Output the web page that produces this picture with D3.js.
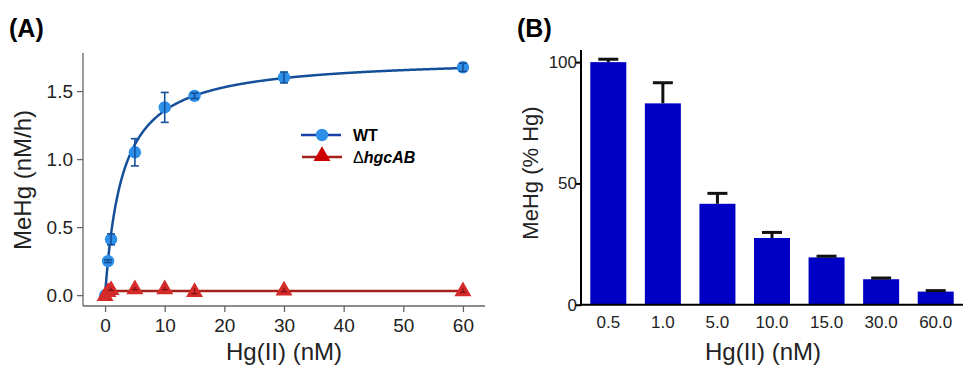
<!DOCTYPE html>
<html><head><meta charset="utf-8">
<script src="https://cdn.jsdelivr.net/npm/d3@7"></script>
<style>body{margin:0;background:#fff}svg{display:block;font-family:"Liberation Sans",Arial,sans-serif}</style>
</head><body><svg id="c" width="963" height="367"></svg>
<script>
// Panel A data
const hgA = [0, 0.5, 1, 5, 10, 15, 30, 60];
const wtRate = [0.0, 0.25, 0.41, 1.05, 1.38, 1.465, 1.60, 1.675];
const wtErr = [0.0, 0.01, 0.04, 0.10, 0.11, 0.02, 0.04, 0.03];
const mutRate = [0.0, 0.03, 0.045, 0.05, 0.05, 0.03, 0.04, 0.035];
const mutErr = [0.0, 0.005, 0.01, 0.01, 0.01, 0.02, 0.015, 0.015];
const mutLevel = 0.03;
// Michaelis-Menten fit parameters for WT curve
const fitVmax = 1.75, fitKm = 2.9;
const yTicksA = [0, 0.5, 1.0, 1.5];
const xTicksA = [0, 10, 20, 30, 40, 50, 60];
// Panel B data
const catsB = ["0.5", "1.0", "5.0", "10.0", "15.0", "30.0", "60.0"];
const pctB = [100, 83, 41.6, 27.5, 19.5, 10.5, 5.4];
const pctErr = [1.2, 8.5, 4.3, 2.3, 0.5, 0.5, 0.4];
const yTicksB = [0, 50, 100];

const svg = d3.select("#c");

// ---------- Panel A ----------
const xA = d3.scaleLinear().domain([-3.7, 63.7]).range([83, 485]);
const yA = d3.scaleLinear().domain([-0.08, 1.78]).range([306, 53]);
const gA = svg.append("g");
const axCol = "#666";
gA.append("line").attr("x1",83).attr("x2",83).attr("y1",53).attr("y2",306).attr("stroke",axCol).attr("stroke-width",1.3);
gA.append("line").attr("x1",83).attr("x2",485).attr("y1",306).attr("y2",306).attr("stroke",axCol).attr("stroke-width",1.3);
const yAxA = gA.append("g").attr("transform","translate(83,0)").call(d3.axisLeft(yA).tickValues(yTicksA).tickFormat(d3.format(".1f")).tickSize(6));
yAxA.select(".domain").remove();
yAxA.selectAll("line").attr("stroke",axCol).attr("stroke-width",1.3);
yAxA.selectAll("text").attr("font-size",19).attr("fill","#222").attr("x",-10);
const xAxA = gA.append("g").attr("transform","translate(0,306)").call(d3.axisBottom(xA).tickValues(xTicksA).tickSize(6));
xAxA.select(".domain").remove();
xAxA.selectAll("line").attr("stroke",axCol).attr("stroke-width",1.3);
xAxA.selectAll("text").attr("font-size",19).attr("fill","#222").attr("y",13);
gA.append("text").attr("x",284).attr("y",360).attr("text-anchor","middle").attr("font-size",24).attr("fill","#222").text("Hg(II) (nM)");
gA.append("text").attr("transform","translate(31,180) rotate(-90)").attr("text-anchor","middle").attr("font-size",24).attr("fill","#222").text("MeHg (nM/h)");
svg.append("text").attr("x",9).attr("y",37).attr("font-size",25).attr("font-weight","bold").text("(A)");

// mutant line
const redLine = "#a8201a", redFill = "#d42a2a", blueLine = "#154f99", blueFill = "#2d8fe8";
gA.append("line").attr("x1",xA(0)).attr("x2",xA(60)).attr("y1",yA(mutLevel)).attr("y2",yA(mutLevel)).attr("stroke",redLine).attr("stroke-width",2.5);
// WT fit curve
const fitX = d3.range(0, 60.01, 0.1);
const curve = d3.line().x(d=>xA(d)).y(d=>yA(fitVmax*d/(fitKm+d)));
gA.append("path").datum(fitX).attr("d",curve).attr("fill","none").attr("stroke",blueLine).attr("stroke-width",2.5);

// mutant triangles
const tri = d3.symbol().type(d3.symbolTriangle).size(125);
gA.append("circle").attr("cx",xA(0)).attr("cy",yA(wtRate[0])).attr("r",6).attr("fill",blueFill);
hgA.forEach((x,i)=>{
  gA.append("path").attr("d",tri).attr("transform",`translate(${xA(x)},${yA(mutRate[i])+1})`).attr("fill",redFill);
  if (mutErr[i]>0) {
    const g = gA.append("g").attr("stroke","#7a1010").attr("stroke-width",1.2);
    g.append("line").attr("x1",xA(x)).attr("x2",xA(x)).attr("y1",yA(mutRate[i]-mutErr[i])).attr("y2",yA(mutRate[i]+mutErr[i]));
    g.append("line").attr("x1",xA(x)-3).attr("x2",xA(x)+3).attr("y1",yA(mutRate[i]-mutErr[i])).attr("y2",yA(mutRate[i]-mutErr[i]));
  }
});
// WT points
hgA.forEach((x,i)=>{
  if (i===0) return;
  gA.append("circle").attr("cx",xA(x)).attr("cy",yA(wtRate[i])).attr("r",6.2).attr("fill",blueFill);
});
hgA.forEach((x,i)=>{
  if (wtErr[i]<=0) return;
  const g = gA.append("g").attr("stroke",blueLine).attr("stroke-width",1.6);
  const y1 = yA(wtRate[i]-wtErr[i]), y2 = yA(wtRate[i]+wtErr[i]);
  g.append("line").attr("x1",xA(x)).attr("x2",xA(x)).attr("y1",y1).attr("y2",y2);
  g.append("line").attr("x1",xA(x)-4).attr("x2",xA(x)+4).attr("y1",y1).attr("y2",y1);
  g.append("line").attr("x1",xA(x)-4).attr("x2",xA(x)+4).attr("y1",y2).attr("y2",y2);
});
// legend
const lg = gA.append("g");
lg.append("line").attr("x1",301).attr("x2",341).attr("y1",135).attr("y2",135).attr("stroke","#1a3fa8").attr("stroke-width",2.5);
lg.append("circle").attr("cx",322).attr("cy",135).attr("r",6.2).attr("fill",blueFill);
lg.append("text").attr("x",353).attr("y",141).attr("font-size",16).attr("font-weight","bold").text("WT");
lg.append("line").attr("x1",302).attr("x2",342).attr("y1",157).attr("y2",157).attr("stroke",redLine).attr("stroke-width",2.5);
lg.append("path").attr("d",tri).attr("transform","translate(322,156)").attr("fill","#c00");
const t2 = lg.append("text").attr("x",353).attr("y",163).attr("font-size",16).attr("font-weight","bold").attr("font-style","italic");
t2.append("tspan").attr("font-weight","normal").attr("font-style","normal").text("Δ");
t2.append("tspan").text("hgcAB");

// ---------- Panel B ----------
const xB = d3.scaleBand().domain(catsB).range([581, 963]).paddingInner(0.34).paddingOuter(0.17);
const yB = d3.scaleLinear().domain([0, 105]).range([304.7, 50]);
const gB = svg.append("g");
gB.selectAll("rect.bar").data(catsB).join("rect").attr("class","bar")
  .attr("x",d=>xB(d)).attr("width",xB.bandwidth())
  .attr("y",(d,i)=>yB(pctB[i])).attr("height",(d,i)=>yB(0)-yB(pctB[i]))
  .attr("fill","#0000c4");
catsB.forEach((c,i)=>{
  const cx = xB(c)+xB.bandwidth()/2;
  const g = gB.append("g").attr("stroke","#111").attr("stroke-width",3);
  g.append("line").attr("x1",cx).attr("x2",cx).attr("y1",yB(pctB[i])).attr("y2",yB(pctB[i]+pctErr[i]));
  g.append("line").attr("x1",cx-10).attr("x2",cx+10).attr("y1",yB(pctB[i]+pctErr[i])).attr("y2",yB(pctB[i]+pctErr[i]));
});
gB.append("line").attr("x1",581).attr("x2",581).attr("y1",50).attr("y2",305.5).attr("stroke","#000").attr("stroke-width",2);
gB.append("line").attr("x1",580).attr("x2",963).attr("y1",304.7).attr("y2",304.7).attr("stroke","#000").attr("stroke-width",2);
const yAxB = gB.append("g").attr("transform","translate(581,0)").call(d3.axisLeft(yB).tickValues(yTicksB).tickSize(5));
yAxB.select(".domain").remove();
yAxB.selectAll("line").attr("stroke","#000").attr("stroke-width",2);
yAxB.selectAll("text").attr("font-size",17).attr("fill","#222").attr("x",-4);
const xAxB = gB.append("g").attr("transform","translate(0,305)").call(d3.axisBottom(xB).tickSize(0));
xAxB.select(".domain").remove();
xAxB.selectAll("text").attr("font-size",17).attr("fill","#222").attr("y",11);
gB.append("text").attr("x",763).attr("y",360).attr("text-anchor","middle").attr("font-size",24).attr("fill","#222").text("Hg(II) (nM)");
gB.append("text").attr("transform","translate(538,173) rotate(-90)").attr("text-anchor","middle").attr("font-size",22).attr("fill","#222").text("MeHg (% Hg)");
svg.append("text").attr("x",517).attr("y",37).attr("font-size",25).attr("font-weight","bold").text("(B)");
</script></body></html>
